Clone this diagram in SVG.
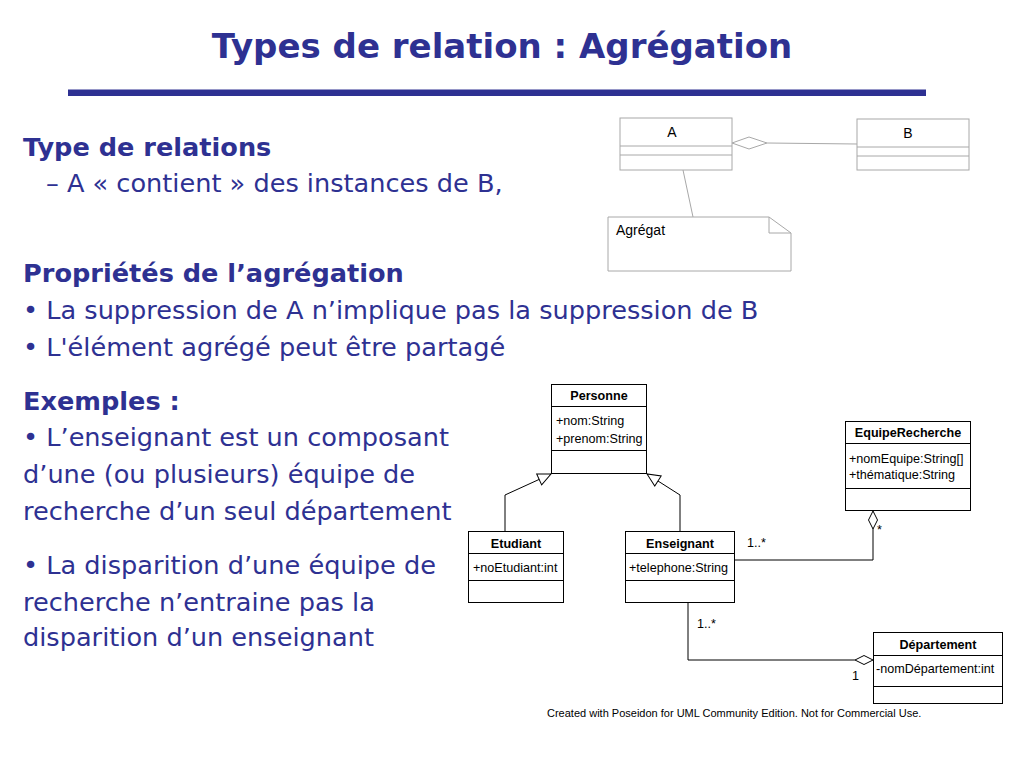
<svg xmlns="http://www.w3.org/2000/svg" width="1024" height="768" viewBox="0 0 1024 768">
<style>
.title{font-family:"DejaVu Sans",Verdana,sans-serif;font-weight:bold;font-size:34px;fill:#2e3192}
.body{font-family:"DejaVu Sans",Verdana,sans-serif;font-size:25.6px;fill:#2e3192}
.bold{font-weight:bold}
.u{font-family:"Liberation Sans",Arial,sans-serif;font-size:12.6px;fill:#000}
.ub{font-family:"Liberation Sans",Arial,sans-serif;font-size:12.6px;font-weight:bold;fill:#000}
.g{font-family:"Liberation Sans",Arial,sans-serif;font-size:14px;fill:#000}
.box{fill:#fff;stroke:#000;stroke-width:1}
.gbox{fill:#fff;stroke:#a8a8a8;stroke-width:1}
.gline{fill:none;stroke:#a8a8a8;stroke-width:1}
.line{fill:none;stroke:#000;stroke-width:1}
.foot{font-family:"Liberation Sans",Arial,sans-serif;font-size:11px;fill:#000}
</style>
<defs>
<marker id="gen" markerWidth="16" markerHeight="14" refX="14" refY="7" orient="auto" markerUnits="userSpaceOnUse">
<path d="M1,1 L14,7 L1,13 Z" fill="#fff" stroke="#000" stroke-width="1"/>
</marker>
</defs>
<rect width="1024" height="768" fill="#fff"/>
<text class="title" x="502" y="58" text-anchor="middle">Types de relation : Agrégation</text>
<rect x="68" y="89.5" width="858" height="6.5" fill="#2e3192"/>

<g id="text">
<text class="body bold" x="23" y="156">Type de relations</text>
<text class="body" x="46" y="192">– A « contient » des instances de B,</text>
<text class="body bold" x="23" y="282">Propriétés de l’agrégation</text>
<text class="body" x="23" y="319">• La suppression de A n’implique pas la suppression de B</text>
<text class="body" x="23" y="356">• L'élément agrégé peut être partagé</text>
<text class="body bold" x="23" y="410">Exemples :</text>
<text class="body" x="23" y="446">• L’enseignant est un composant</text>
<text class="body" x="23" y="483">d’une (ou plusieurs) équipe de</text>
<text class="body" x="23" y="520">recherche d’un seul département</text>
<text class="body" x="23" y="574">• La disparition d’une équipe de</text>
<text class="body" x="23" y="611">recherche n’entraine pas la</text>
<text class="body" x="23" y="646">disparition d’un enseignant</text>
</g>

<g id="connectors">
<line class="gline" x1="767" y1="143" x2="857" y2="144"/>
<path d="M732,143 L749,137 L767,143 L749,149 Z" fill="#fff" stroke="#a8a8a8" stroke-width="1"/>
<line class="gline" x1="683" y1="170" x2="693" y2="217"/>
<path class="line" d="M505,532 L505,495 L551,474" marker-end="url(#gen)"/>
<path class="line" d="M680,532 L680,495 L647,474" marker-end="url(#gen)"/>
<path class="line" d="M734,560 L873,560 L873,529"/>
<path d="M873,511 L877.5,520 L873,529 L868.5,520 Z" fill="#fff" stroke="#000" stroke-width="1"/>
<path class="line" d="M688,603 L688,660 L855,660"/>
<path d="M855,660 L864,655.5 L873,660 L864,664.5 Z" fill="#fff" stroke="#000" stroke-width="1"/>
<text class="u" x="747" y="547" font-size="11.5">1..*</text>
<text class="u" x="877" y="534" font-size="11.5">*</text>
<text class="u" x="697" y="628" font-size="11.5">1..*</text>
<text class="u" x="852" y="680" font-size="11.5">1</text>
</g>

<g id="A">
<rect class="gbox" x="620" y="118" width="112" height="52"/>
<line class="gline" x1="620" y1="146" x2="732" y2="146"/>
<line class="gline" x1="620" y1="155" x2="732" y2="155"/>
<text class="g" x="672" y="137" text-anchor="middle">A</text>
</g>
<g id="B">
<rect class="gbox" x="857" y="119" width="112" height="51"/>
<line class="gline" x1="857" y1="147" x2="969" y2="147"/>
<line class="gline" x1="857" y1="156" x2="969" y2="156"/>
<text class="g" x="908" y="138" text-anchor="middle">B</text>
</g>
<g id="note">
<path class="gbox" d="M608,217 L769,217 L791,233 L791,271 L608,271 Z"/>
<path class="gline" d="M769,217 L769,233 L791,233"/>
<text class="g" x="616" y="235">Agrégat</text>
</g>

<g id="Personne">
<rect class="box" x="551.5" y="384.5" width="95" height="89"/>
<line class="line" x1="551.5" y1="406.5" x2="646.5" y2="406.5"/>
<line class="line" x1="551.5" y1="450.5" x2="646.5" y2="450.5"/>
<text class="ub" x="599" y="400" text-anchor="middle">Personne</text>
<text class="u" x="556" y="425">+nom:String</text>
<text class="u" x="556" y="443">+prenom:String</text>
</g>
<g id="Etudiant">
<rect class="box" x="468.5" y="531.5" width="95" height="71"/>
<line class="line" x1="468.5" y1="553.5" x2="563.5" y2="553.5"/>
<line class="line" x1="468.5" y1="580.5" x2="563.5" y2="580.5"/>
<text class="ub" x="516" y="548" text-anchor="middle">Etudiant</text>
<text class="u" x="473" y="572">+noEtudiant:int</text>
</g>
<g id="Enseignant">
<rect class="box" x="625.5" y="531.5" width="109" height="71"/>
<line class="line" x1="625.5" y1="553.5" x2="734.5" y2="553.5"/>
<line class="line" x1="625.5" y1="580.5" x2="734.5" y2="580.5"/>
<text class="ub" x="680" y="548" text-anchor="middle">Enseignant</text>
<text class="u" x="629" y="572">+telephone:String</text>
</g>
<g id="EquipeRecherche">
<rect class="box" x="845.5" y="421.5" width="125" height="89"/>
<line class="line" x1="845.5" y1="443.5" x2="970.5" y2="443.5"/>
<line class="line" x1="845.5" y1="488.5" x2="970.5" y2="488.5"/>
<text class="ub" x="908" y="437" text-anchor="middle">EquipeRecherche</text>
<text class="u" x="849" y="463">+nomEquipe:String[]</text>
<text class="u" x="849" y="479">+thématique:String</text>
</g>
<g id="Departement">
<rect class="box" x="873.5" y="632.5" width="129" height="71"/>
<line class="line" x1="873.5" y1="655.5" x2="1002.5" y2="655.5"/>
<line class="line" x1="873.5" y1="686.5" x2="1002.5" y2="686.5"/>
<text class="ub" x="938" y="649" text-anchor="middle">Département</text>
<text class="u" x="876" y="673">-nomDépartement:int</text>
</g>
<text class="foot" x="547" y="717">Created with Poseidon for UML Community Edition. Not for Commercial Use.</text>
</svg>
